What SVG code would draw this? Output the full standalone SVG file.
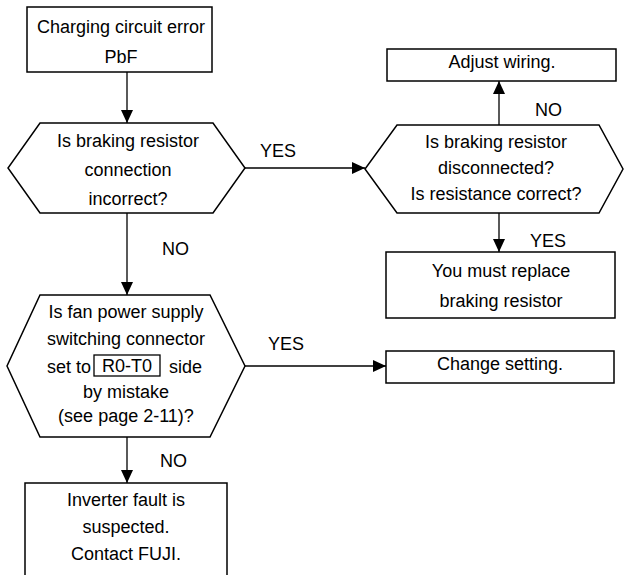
<svg xmlns="http://www.w3.org/2000/svg" width="624" height="575" viewBox="0 0 624 575">
<defs>
<style>
text{font-family:"Liberation Sans",Arial,sans-serif;font-size:18px;fill:#000}
.c{text-anchor:middle}
.shape{fill:#fff;stroke:#000;stroke-width:1.5}
.edge{fill:none;stroke:#000;stroke-width:1.3}
</style>
<marker id="ah" markerUnits="userSpaceOnUse" markerWidth="14" markerHeight="14" viewBox="0 0 14 14" refX="13" refY="7" orient="auto">
<path d="M0,1 L13,7 L0,13 Z" fill="#000"/>
</marker>
</defs>
<rect width="624" height="575" fill="#fff"/>
<g id="connectors">
<line class="edge" x1="127" y1="72" x2="127" y2="123" marker-end="url(#ah)"/>
<line class="edge" x1="245" y1="168" x2="365" y2="168" marker-end="url(#ah)"/>
<line class="edge" x1="499" y1="125" x2="499" y2="81" marker-end="url(#ah)"/>
<line class="edge" x1="499" y1="213" x2="499" y2="252" marker-end="url(#ah)"/>
<line class="edge" x1="127" y1="213" x2="127" y2="295" marker-end="url(#ah)"/>
<line class="edge" x1="245" y1="366" x2="386" y2="366" marker-end="url(#ah)"/>
<line class="edge" x1="127" y1="437" x2="127" y2="483" marker-end="url(#ah)"/>
<text x="260" y="157">YES</text>
<text x="535" y="116">NO</text>
<text x="530" y="247">YES</text>
<text x="162" y="255">NO</text>
<text x="268" y="350">YES</text>
<text x="160" y="467">NO</text>
</g>
<g id="start">
<rect class="shape" x="27" y="7" width="185" height="65"/>
<text class="c" x="121" y="33">Charging circuit error</text>
<text class="c" x="121" y="63">PbF</text>
</g>
<g id="q1">
<polygon class="shape" points="40,123 213,123 245,168 213,213 40,213 8,168"/>
<text class="c" x="128" y="147">Is braking resistor</text>
<text class="c" x="128" y="176">connection</text>
<text class="c" x="128" y="205">incorrect?</text>
</g>
<g id="q2">
<polygon class="shape" points="397,125 599,125 623,169 599,213 397,213 365,169"/>
<text class="c" x="496" y="148">Is braking resistor</text>
<text class="c" x="496" y="174">disconnected?</text>
<text class="c" x="496" y="200">Is resistance correct?</text>
</g>
<g id="adjust">
<rect class="shape" x="387" y="49" width="229" height="32"/>
<text class="c" x="502" y="68">Adjust wiring.</text>
</g>
<g id="replace">
<rect class="shape" x="386" y="252" width="229" height="66"/>
<text class="c" x="501" y="277">You must replace</text>
<text class="c" x="501" y="307">braking resistor</text>
</g>
<g id="q3">
<polygon class="shape" points="40,295 210,295 245,366 210,437 40,437 7,366"/>
<text class="c" x="126" y="318">Is fan power supply</text>
<text class="c" x="126" y="345">switching connector</text>
<text x="47" y="373">set to</text>
<rect x="94" y="355" width="66" height="21" fill="none" stroke="#000" stroke-width="1.3"/>
<text class="c" x="127" y="372">R0-T0</text>
<text x="202" y="373" text-anchor="end">side</text>
<text class="c" x="126" y="398">by mistake</text>
<text class="c" x="126" y="422">(see page 2-11)?</text>
</g>
<g id="change">
<rect class="shape" x="386" y="351" width="228" height="32"/>
<text class="c" x="500" y="370">Change setting.</text>
</g>
<g id="fault">
<path class="shape" d="M25,576 L25,483 L227,483 L227,576"/>
<text class="c" x="126" y="506">Inverter fault is</text>
<text class="c" x="126" y="533">suspected.</text>
<text class="c" x="126" y="560">Contact FUJI.</text>
</g>
</svg>
